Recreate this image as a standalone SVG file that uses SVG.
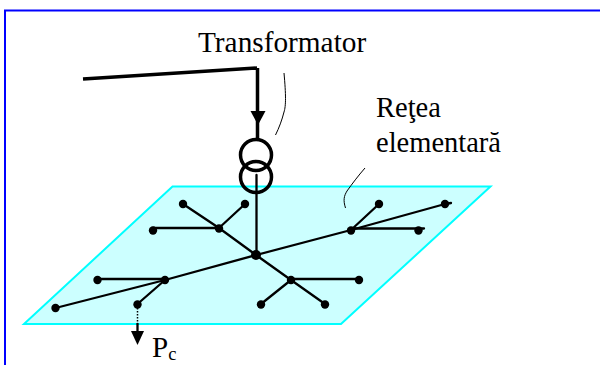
<svg xmlns="http://www.w3.org/2000/svg" width="600" height="365" viewBox="0 0 600 365">
<style>
text{font-family:"Liberation Serif","Times New Roman",serif;fill:#000}
.l{font-size:28.500px}
.w{fill:none;stroke:#000;stroke-width:2.300;stroke-linecap:round}
.t{fill:none;stroke:#000;stroke-width:1}
.h{fill:none;stroke:#000;stroke-width:3.500}
.n{fill:#000}
</style>
<rect width="600" height="365" fill="#fff"/>
<path d="M5 365V10.500H600" fill="none" stroke="#0000ff" stroke-width="2"/>
<polygon id="plane" points="172.500,186.500 490.500,186.500 341,324 24,324" fill="#ccffff" stroke="#00ffff" stroke-width="2"/>
<g id="connectors">
<path class="h" d="M83 79L257 68M257.500 68V138"/>
<polygon class="n" points="250.500,111 265.500,111 258,125"/>
<path class="w" d="M256.500 175V255M55.500 308L165 280L256 255L351 230L445 204"/>
<path class="w" d="M183 204L219 228L256 255L291 280L325 304M219 228H153M219 228L245 204"/>
<path class="w" d="M97.500 279H165M165 280L137.500 304"/>
<path class="w" d="M291 279H359M291 280L261 304"/>
<path class="w" d="M351 230L379 204M351 228.500H424M445 204L451 203"/>
<path d="M137.500 305V325" fill="none" stroke="#000" stroke-width="1.500" stroke-dasharray="1.500 1.500"/>
<path class="w" d="M137.500 324V335"/>
<polygon class="n" points="131,331 144,331 137.500,345"/>
<path class="t" d="M284 73C286 95 286 106 284 112C282 120 279 128 275.500 135"/>
<path class="t" d="M365 168C358 176 352 184 347 191C344 196 343 200 345.500 208"/>
</g>
<g id="transformer" fill="none" stroke="#000" stroke-width="3.500">
<circle cx="256" cy="155" r="15.500"/>
<circle cx="256" cy="177" r="15.500"/>
</g>
<g id="nodes">
<circle class="n" cx="183" cy="204" r="4.200"/><circle class="n" cx="245" cy="204" r="4.200"/>
<circle class="n" cx="153" cy="230.500" r="4.200"/><circle class="n" cx="219" cy="228.500" r="4.200"/>
<circle class="n" cx="256" cy="255" r="5"/>
<circle class="n" cx="97.500" cy="280" r="4.200"/><circle class="n" cx="165" cy="280" r="4.200"/>
<circle class="n" cx="55.500" cy="308" r="4.200"/><circle class="n" cx="137.500" cy="304.500" r="4.200"/>
<circle class="n" cx="291" cy="280" r="4.200"/><circle class="n" cx="261" cy="304.500" r="4.200"/>
<circle class="n" cx="359" cy="280" r="4.200"/><circle class="n" cx="325" cy="304.500" r="4.200"/>
<circle class="n" cx="351" cy="230.500" r="4.200"/><circle class="n" cx="379" cy="204" r="4.200"/>
<circle class="n" cx="445" cy="204" r="4.200"/><circle class="n" cx="418.500" cy="230.500" r="4.200"/>
</g>
<g id="labels">
<text x="198" y="52" font-size="29.300">Transformator</text>
<text class="l" x="376" y="117">Reţea</text>
<text class="l" x="376" y="152">elementară</text>
<text x="152" y="357" font-size="29">P<tspan font-size="18.500" dy="3">c</tspan></text>
</g>
</svg>
